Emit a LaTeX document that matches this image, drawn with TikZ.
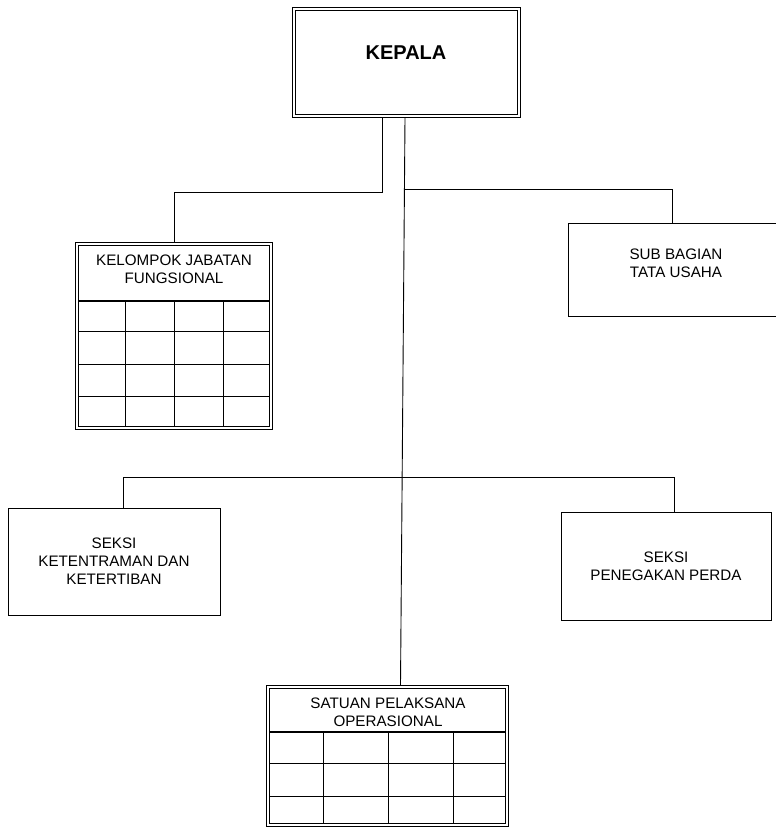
\documentclass[tikz,border=0pt]{standalone}
\usepackage{fontspec}
\setmainfont{Liberation Sans}
\usetikzlibrary{backgrounds}
\begin{document}
\begin{tikzpicture}[x=1pt,y=-1pt,
  box/.style={draw, line width=0.9pt, rectangle, inner sep=0pt, align=center,
    font=\fontsize{15.2}{18}\selectfont},
  dbox/.style={draw, rectangle, inner sep=0pt, line width=1.3pt},
  inner/.style={line width=1pt},
  txt/.style={inner sep=0pt, align=center, font=\fontsize{15.2}{18}\selectfont},
  conn/.style={line width=0.9pt},
  gline/.style={line width=1pt},
  hline/.style={line width=2.2pt}]
\useasboundingbox (0,0) rectangle (776,830);

% boxes
\node[dbox, minimum width=228pt, minimum height=110pt] (kepala) at (406.5,62.5) {};
\draw[inner] ([shift={(4pt,-4pt)}]kepala.north west) rectangle ([shift={(-4pt,4pt)}]kepala.south east);
\node[inner sep=0pt, font=\fontsize{20}{24}\selectfont\bfseries] (kepalat) at (406,53) {KEPALA};

\node[dbox, minimum width=197pt, minimum height=187pt] (kjf) at (174,336) {};
\draw[inner] ([shift={(3.5pt,-3.5pt)}]kjf.north west) rectangle ([shift={(-3.5pt,3.5pt)}]kjf.south east);
\node[txt] (kjft) at (174,269) {KELOMPOK JABATAN\\FUNGSIONAL};

\node[box, minimum width=216pt, minimum height=93pt] (sub) at (676,269.5) {};
\node[txt] (subt) at (676,263) {SUB BAGIAN\\TATA USAHA};

\node[box, minimum width=212pt, minimum height=107pt] (seksi1) at (114,561.5) {SEKSI\\KETENTRAMAN DAN\\KETERTIBAN};
\node[box, minimum width=210pt, minimum height=108pt] (seksi2) at (666,566) {SEKSI\\PENEGAKAN PERDA};

\node[dbox, minimum width=242pt, minimum height=141pt] (satuan) at (387.5,756) {};
\draw[inner] ([shift={(3.5pt,-3.5pt)}]satuan.north west) rectangle ([shift={(-3.5pt,3.5pt)}]satuan.south east);
\node[txt] (satuant) at (388,712) {SATUAN PELAKSANA\\OPERASIONAL};

% grids
\draw[hline] (78,301) -- (270,301);
\foreach \y in {331,364,396} \draw[gline] (78,\y) -- (270,\y);
\foreach \x in {125,174,223} \draw[gline] (\x,301) -- (\x,426);

\draw[hline] (269,732) -- (506,732);
\foreach \y in {763,796} \draw[gline] (269,\y) -- (506,\y);
\foreach \x in {323,388,453} \draw[gline] (\x,732) -- (\x,823);

% connectors
\coordinate (lm) at (174,192);
\coordinate (rj) at (405,189);
\coordinate (lj) at (123,477);
\begin{scope}[on background layer]
\draw[conn] ([xshift=-24.5pt]kepala.south) |- (lm) -- (kjf.north);
\draw[conn] ([xshift=-1.5pt]kepala.south) -- ([xshift=13pt]satuan.north);
\draw[conn] (rj) -| ([xshift=-4pt]sub.north);
\draw[conn] ([xshift=9pt]seksi1.north) -- (lj) -| ([xshift=8pt]seksi2.north);
\end{scope}
\end{tikzpicture}
\end{document}
